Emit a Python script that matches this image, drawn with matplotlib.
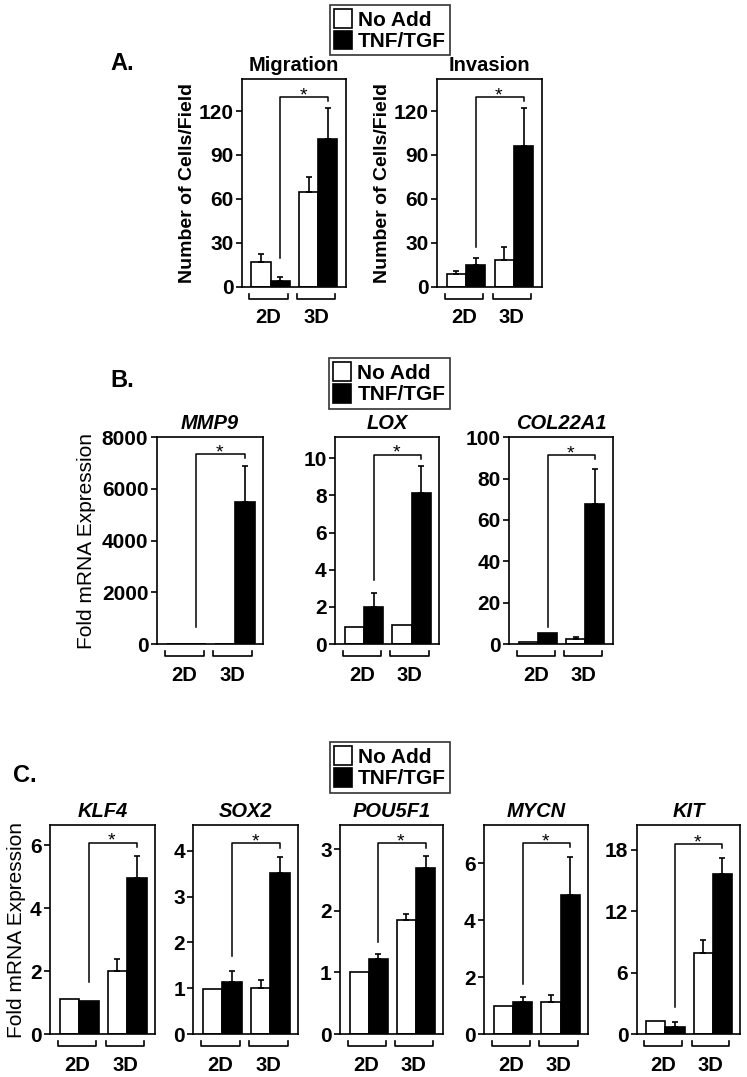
import matplotlib
matplotlib.use("Agg")
import matplotlib.pyplot as plt
from matplotlib.patches import Patch
from matplotlib.transforms import blended_transform_factory
import numpy as np

plt.rcParams['font.family'] = ['Liberation Sans', 'DejaVu Sans']
plt.rcParams['axes.linewidth'] = 1.2

W, H = 747, 1077

groups = ["2D", "3D"]
legend_labels = ["No Add", "TNF/TGF"]

# panel A
mig_noadd = [17, 65]
mig_noadd_err = [5, 10]
mig_tnf = [4, 101]
mig_tnf_err = [2.5, 21]
mig_sig = [19.4, 129.8]

inv_noadd = [8.5, 18.4]
inv_noadd_err = [2.2, 8.5]
inv_tnf = [14.8, 96.3]
inv_tnf_err = [4.6, 25.5]
inv_sig = [26.9, 129.8]

# panel B
mmp9_noadd = [1, 1]
mmp9_noadd_err = [0, 0]
mmp9_tnf = [8, 5480]
mmp9_tnf_err = [0, 1410]
mmp9_sig = [670, 7340]

lox_noadd = [0.93, 1.02]
lox_noadd_err = [0, 0]
lox_tnf = [2.01, 8.15]
lox_tnf_err = [0.72, 1.44]
lox_sig = [3.45, 10.2]

col_noadd = [1.2, 2.6]
col_noadd_err = [0, 0.6]
col_tnf = [5.2, 67.5]
col_tnf_err = [0, 17.4]
col_sig = [8, 91.5]

# panel C
klf4_noadd = [1.12, 2.02]
klf4_noadd_err = [0, 0.36]
klf4_tnf = [1.05, 4.97]
klf4_tnf_err = [0, 0.69]
klf4_sig = [1.65, 6.09]

sox2_noadd = [0.985, 1.0]
sox2_noadd_err = [0, 0.17]
sox2_tnf = [1.13, 3.52]
sox2_tnf_err = [0.24, 0.35]
sox2_sig = [1.70, 4.16]

pou_noadd = [1.0, 1.85]
pou_noadd_err = [0, 0.10]
pou_tnf = [1.21, 2.70]
pou_tnf_err = [0.09, 0.18]
pou_sig = [1.49, 3.09]

mycn_noadd = [0.97, 1.12]
mycn_noadd_err = [0, 0.26]
mycn_tnf = [1.11, 4.87]
mycn_tnf_err = [0.19, 1.36]
mycn_sig = [1.77, 6.70]

kit_noadd = [1.27, 7.92]
kit_noadd_err = [0, 1.3]
kit_tnf = [0.68, 15.65]
kit_tnf_err = [0.49, 1.55]
kit_sig = [2.6, 18.57]

fig = plt.figure(figsize=(W / 100, H / 100), dpi=100)


def make_ax(l, t, r, b):
    return fig.add_axes([l / W, 1 - b / H, (r - l) / W, (b - t) / H])


def panel(ax, noadd, noadd_err, tnf, tnf_err, sig, ymax, ticks, title, italic=True, ticksize=15):
    x0 = np.array([0.0, 2.47])
    ax.bar(x0, noadd, width=1, align='edge', color='white', edgecolor='black', lw=1.2, zorder=2)
    ax.bar(x0 + 1, tnf, width=1, align='edge', color='black', edgecolor='black', lw=1.2, zorder=2)
    for xs, v, e in [(x0 + 0.5, noadd, noadd_err), (x0 + 1.5, tnf, tnf_err)]:
        for xi, vi, ei in zip(xs, v, e):
            if ei > 0:
                ax.errorbar(xi, vi, yerr=[[0], [ei]], fmt='none', ecolor='black',
                            elinewidth=1.2, capsize=2, capthick=1.2, zorder=3)
    # significance bracket
    xa, xb = 1.5, x0[1] + 1.5
    drop = 0.02 * ymax
    ax.plot([xa, xa, xb, xb], [sig[0], sig[1], sig[1], sig[1] - drop], color='black', lw=1.1, zorder=4)
    ax.text((xa + xb) / 2 - 0.05, sig[1] - 0.035 * ymax, "*", ha='center', va='bottom', fontsize=14)
    ax.set_xlim(-0.5, 4.9)
    ax.set_ylim(0, ymax)
    ax.set_yticks(ticks)
    ax.set_yticklabels([str(t) for t in ticks], fontsize=ticksize, fontweight='bold')
    ax.tick_params(axis='y', length=4, width=1.2, pad=2)
    ax.set_xticks([])
    ax.set_title(title, fontsize=14.5, fontweight='bold', style='italic' if italic else 'normal', pad=6)
    tr = blended_transform_factory(ax.transData, ax.transAxes)
    for gi, g in enumerate(groups):
        a, b = x0[gi] - 0.1, x0[gi] + 1.88
        ax.plot([a, a, b, b], [-0.035, -0.058, -0.058, -0.035], transform=tr, color='black',
                lw=1.2, clip_on=False)
        ax.text((a + b) / 2, -0.15, g, transform=tr, ha='center', va='center',
                fontsize=14.5, fontweight='bold')


def legend_at(x, y):
    handles = [Patch(facecolor='white', edgecolor='black', lw=1.2),
               Patch(facecolor='black', edgecolor='black', lw=1.2)]
    leg = fig.legend(handles, legend_labels, loc='upper left', bbox_to_anchor=(x / W, 1 - y / H),
                     frameon=True, fancybox=False, edgecolor='black', handlelength=0.85,
                     handleheight=1.0, handletextpad=0.3, borderpad=0.2, labelspacing=0.05,
                     borderaxespad=0, prop={'weight': 'bold', 'size': 15})
    leg.get_frame().set_linewidth(1.2)


# ---- A ----
ax = make_ax(241.7, 79.3, 345.7, 286.7)
panel(ax, mig_noadd, mig_noadd_err, mig_tnf, mig_tnf_err, mig_sig, 141.7, [0, 30, 60, 90, 120],
      "Migration", italic=False)
ax.set_ylabel("Number of Cells/Field", fontsize=14, fontweight='bold', labelpad=2)
ax = make_ax(437, 79.3, 541.7, 286.7)
panel(ax, inv_noadd, inv_noadd_err, inv_tnf, inv_tnf_err, inv_sig, 141.7, [0, 30, 60, 90, 120],
      "Invasion", italic=False)
ax.set_ylabel("Number of Cells/Field", fontsize=14, fontweight='bold', labelpad=2)
legend_at(330, 5)
fig.text(110 / W, 1 - 63 / H, "A.", fontsize=17, fontweight='bold', va='center')

# ---- B ----
ax = make_ax(156.7, 437.3, 263.3, 644)
panel(ax, mmp9_noadd, mmp9_noadd_err, mmp9_tnf, mmp9_tnf_err, mmp9_sig, 8000,
      [0, 2000, 4000, 6000, 8000], "MMP9")
ax.set_ylabel("Fold mRNA Expression", fontsize=15, labelpad=4)
ax = make_ax(335, 437.3, 439.3, 644)
panel(ax, lox_noadd, lox_noadd_err, lox_tnf, lox_tnf_err, lox_sig, 11.13,
      [0, 2, 4, 6, 8, 10], "LOX")
ax = make_ax(509.3, 437.3, 612.5, 644)
panel(ax, col_noadd, col_noadd_err, col_tnf, col_tnf_err, col_sig, 100,
      [0, 20, 40, 60, 80, 100], "COL22A1")
legend_at(329.3, 358.3)
fig.text(110 / W, 1 - 380 / H, "B.", fontsize=17, fontweight='bold', va='center')

# ---- C ----
c_axes = [
    ((50, 155), klf4_noadd, klf4_noadd_err, klf4_tnf, klf4_tnf_err, klf4_sig, 6.65, [0, 2, 4, 6], "KLF4"),
    ((193.3, 298.3), sox2_noadd, sox2_noadd_err, sox2_tnf, sox2_tnf_err, sox2_sig, 4.56, [0, 1, 2, 3, 4], "SOX2"),
    ((340, 443.3), pou_noadd, pou_noadd_err, pou_tnf, pou_tnf_err, pou_sig, 3.39, [0, 1, 2, 3], "POU5F1"),
    ((484, 588.3), mycn_noadd, mycn_noadd_err, mycn_tnf, mycn_tnf_err, mycn_sig, 7.34, [0, 2, 4, 6], "MYCN"),
    ((636.7, 740), kit_noadd, kit_noadd_err, kit_tnf, kit_tnf_err, kit_sig, 20.4, [0, 6, 12, 18], "KIT"),
]
for i, (lr, na, nae, tn, tne, sg, ym, tk, tt) in enumerate(c_axes):
    ax = make_ax(lr[0], 825, lr[1], 1034)
    panel(ax, na, nae, tn, tne, sg, ym, tk, tt)
    if i == 0:
        ax.set_ylabel("Fold mRNA Expression", fontsize=15, labelpad=3)
legend_at(330, 742.3)
fig.text(13 / W, 1 - 775 / H, "C.", fontsize=17, fontweight='bold', va='center')

fig.savefig("out.png", dpi=100)
